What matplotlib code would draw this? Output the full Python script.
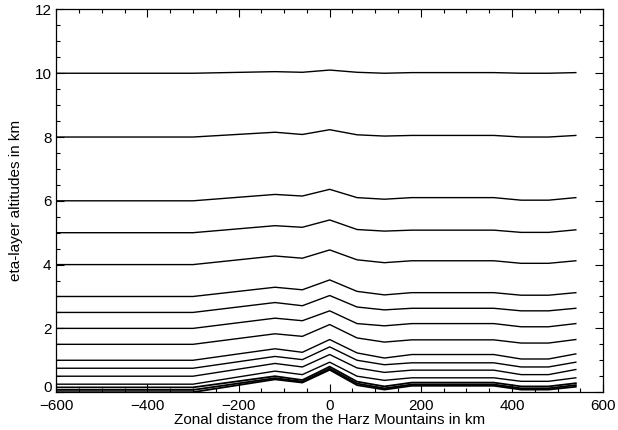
import matplotlib
matplotlib.use("Agg")
import matplotlib.pyplot as plt
import matplotlib.transforms as mtransforms
from matplotlib.ticker import MultipleLocator

plt.rcParams['font.family'] = ['Liberation Sans', 'DejaVu Sans']

# zonal positions (km) where the layer lines bend
x_km = [-600, -300, -120, -60, 0, 60, 120, 180, 360, 420, 480, 540]

# eta-layer altitudes (km), top to bottom
lev_10 = [10.0, 10.0, 10.05, 10.03, 10.1, 10.03, 10.0, 10.02, 10.02, 10.0, 10.0, 10.02]
lev_8 = [8.0, 8.0, 8.15, 8.08, 8.23, 8.07, 8.03, 8.05, 8.05, 8.0, 8.0, 8.05]
lev_6 = [6.0, 6.0, 6.2, 6.15, 6.36, 6.1, 6.05, 6.1, 6.1, 6.02, 6.02, 6.1]
lev_5 = [5.0, 5.0, 5.22, 5.17, 5.40, 5.1, 5.05, 5.08, 5.08, 5.01, 5.01, 5.09]
lev_4 = [4.0, 4.0, 4.27, 4.2, 4.46, 4.15, 4.06, 4.12, 4.12, 4.04, 4.04, 4.12]
lev_3 = [3.0, 3.0, 3.29, 3.21, 3.52, 3.16, 3.05, 3.12, 3.12, 3.04, 3.04, 3.12]
lev_25 = [2.5, 2.5, 2.81, 2.71, 3.03, 2.67, 2.58, 2.63, 2.63, 2.55, 2.55, 2.63]
lev_2 = [2.0, 2.0, 2.32, 2.24, 2.55, 2.15, 2.08, 2.15, 2.15, 2.05, 2.05, 2.15]
lev_15 = [1.5, 1.5, 1.83, 1.75, 2.12, 1.7, 1.57, 1.64, 1.64, 1.54, 1.54, 1.65]
lev_1 = [1.0, 1.0, 1.36, 1.25, 1.65, 1.23, 1.07, 1.18, 1.18, 1.04, 1.04, 1.2]
lev_075 = [0.75, 0.75, 1.12, 1.02, 1.42, 1.0, 0.86, 0.92, 0.92, 0.79, 0.79, 0.94]
lev_05 = [0.5, 0.5, 0.9, 0.79, 1.18, 0.76, 0.62, 0.69, 0.69, 0.55, 0.55, 0.71]
lev_025 = [0.25, 0.25, 0.66, 0.55, 0.94, 0.5, 0.37, 0.45, 0.45, 0.34, 0.34, 0.45]
lev_015 = [0.15, 0.15, 0.5, 0.38, 0.8, 0.33, 0.18, 0.3, 0.3, 0.18, 0.18, 0.28]
lev_007 = [0.07, 0.07, 0.44, 0.33, 0.74, 0.27, 0.12, 0.24, 0.24, 0.12, 0.12, 0.22]
lev_0 = [0.0, 0.0, 0.4, 0.3, 0.7, 0.22, 0.08, 0.2, 0.2, 0.08, 0.08, 0.17]

upper = [lev_10, lev_8, lev_6, lev_5, lev_4, lev_3, lev_25, lev_2, lev_15,
         lev_1, lev_075, lev_05, lev_025]
lower = [lev_015, lev_007, lev_0]

fig = plt.figure(figsize=(6.18, 4.30), dpi=100)
ax = fig.add_axes((0.091, 0.088, 0.885, 0.89))

for z in upper:
    ax.plot(x_km, z, color='black', lw=1.0)
for z in lower:
    ax.plot(x_km, z, color='black', lw=1.3)

ax.set_xlim(-600, 600)
ax.set_ylim(0, 12)
ax.xaxis.set_major_locator(MultipleLocator(200))
ax.xaxis.set_minor_locator(MultipleLocator(50))
ax.yaxis.set_major_locator(MultipleLocator(2))
ax.yaxis.set_minor_locator(MultipleLocator(0.5))
ax.tick_params(which='both', direction='in', top=True, right=True,
               labelsize=11, width=0.8)
ax.tick_params(which='major', length=6)
ax.tick_params(which='minor', length=3)
ax.tick_params(axis='x', pad=5)
for s in ax.spines.values():
    s.set_linewidth(0.9)

# nudge the "0" altitude label upward so it clears the "-600" label
fig.canvas.draw()
lift = mtransforms.ScaledTranslation(0, 4 / 72, fig.dpi_scale_trans)
for lab in ax.get_yticklabels():
    if lab.get_text() == '0':
        lab.set_transform(lab.get_transform() + lift)

ax.set_xlabel('Zonal distance from the Harz Mountains in km', fontsize=11, labelpad=0)
ax.set_ylabel('eta-layer altitudes in km', fontsize=11, labelpad=8)

fig.savefig('out.png', dpi=100)
